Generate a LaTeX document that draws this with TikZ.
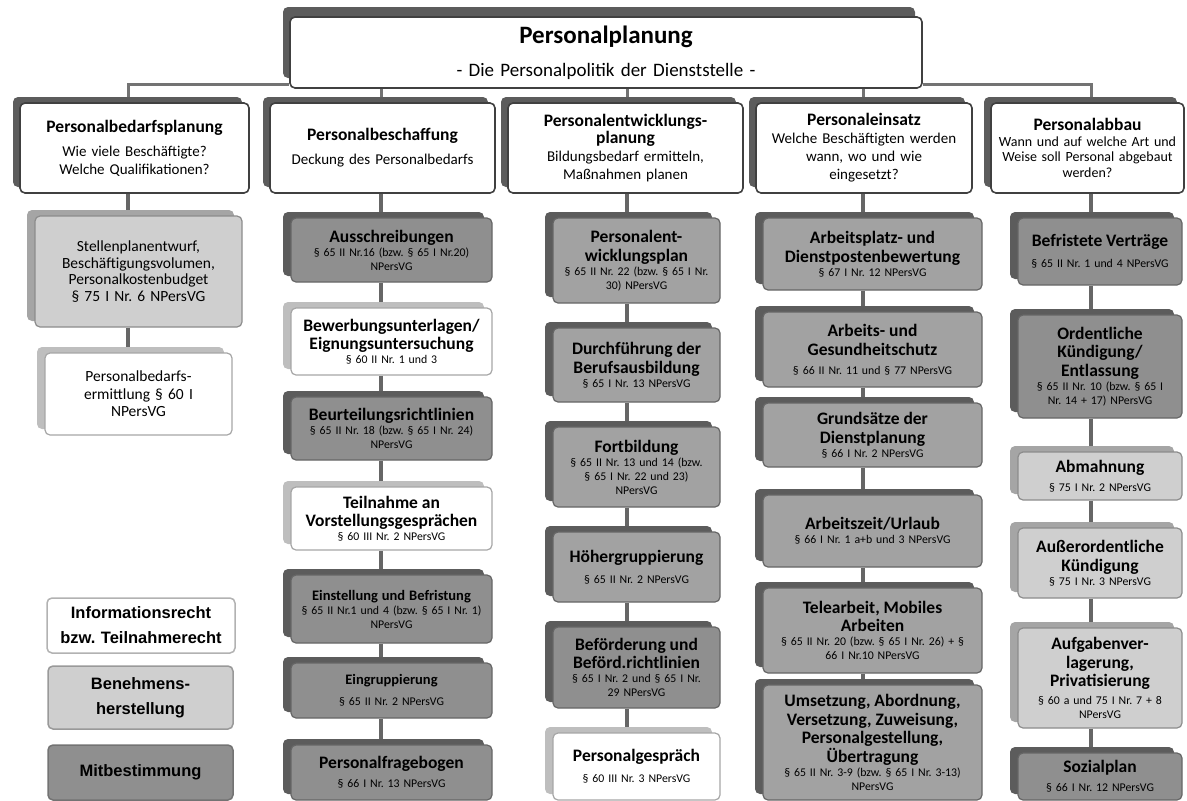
\documentclass[tikz,border=0pt]{standalone}
\usepackage{fontspec}
\setmainfont{Carlito}
\newfontfamily\arialfont{Liberation Sans}
\usetikzlibrary{shadows, backgrounds}
\frenchspacing
\definecolor{schatten}{RGB}{92,92,92}
\definecolor{mitgrau}{RGB}{143,143,143}
\definecolor{mitgrauhell}{RGB}{162,162,162}
\definecolor{hellgrau}{RGB}{207,207,207}
\definecolor{hellschatten}{RGB}{165,165,165}
\definecolor{infoschatten}{RGB}{190,190,190}
\newcommand{\titel}{\fontsize{17.5}{18.5}\selectfont\bfseries}
\newcommand{\kleintitel}{\fontsize{14.5}{15}\selectfont\bfseries}
\newcommand{\gesetz}{\fontsize{11.8}{14}\selectfont\mdseries}
\newcommand{\kopftitel}{\fontsize{17.5}{17.5}\selectfont\bfseries}
\newcommand{\kopftext}{\fontsize{15}{18}\selectfont\mdseries}
\newcommand{\abbautext}{\fontsize{14}{15.5}\selectfont\mdseries}

\begin{document}
\begin{tikzpicture}[x=1pt,y=-1pt,
    kasten/.style={rounded corners=5pt, inner sep=0pt, align=center, line width=1.2pt, font=\gesetz},
    wh/.style 2 args={text width=#1, minimum height=#2},
    kopf/.style={kasten, fill=white, draw=black!75, line width=1.6pt, font=\kopftext,
        general shadow={fill=schatten, shadow xshift=-7pt, shadow yshift=#1}},
    kopf/.default=6pt,
    mitb/.style={kasten, fill=mitgrau, draw=black!60,
        general shadow={fill=schatten, shadow xshift=-8pt, shadow yshift=6pt}},
    beneh/.style={kasten, fill=hellgrau, draw=black!45,
        general shadow={fill=hellschatten, shadow xshift=-8pt, shadow yshift=6pt}},
    info/.style={kasten, fill=white, draw=black!35,
        general shadow={fill=infoschatten, shadow xshift=-8pt, shadow yshift=6pt}},
    legende/.style={rounded corners=5pt, inner sep=0pt, align=center, line width=1.5pt,
        font=\arialfont\bfseries\fontsize{16.5}{25}\selectfont},
    link/.style={line width=4pt, draw=black!60},
    stem/.style={line width=3pt, draw=black!55}]
\useasboundingbox (0,0) rectangle (1187,801);
% Verbindungslinien laufen senkrecht
\coordinate (k1) at (128,0);
\coordinate (k2) at (381,0);
\coordinate (k3) at (627,0);
\coordinate (k4) at (863,0);
\coordinate (k5) at (1091,0);

% Kopf
\node[kopf=10pt, wh={632pt}{71pt}, font=\fontsize{19}{22}\selectfont] (haupt) at (606,52.5)
    {\fontsize{25}{26}\selectfont\bfseries Personalplanung\\[11pt]
     \fontsize{19}{22}\selectfont\mdseries - Die Personalpolitik der Dienststelle -};
\node[kopf, wh={229pt}{90pt}] (h1) at (134.5,148)
    {\kopftitel Personalbedarfsplanung\\[6pt] \kopftext Wie viele Beschäftigte?\\ Welche Qualifikationen?};
\node[kopf, wh={225pt}{90pt}] (h2) at (382.5,148)
    {\kopftitel Personalbeschaffung\\[6pt] \kopftext Deckung des Personalbedarfs};
\node[kopf, wh={235pt}{90pt}] (h3) at (625.5,148)
    {\kopftitel Personalentwicklungs-\\ planung\\ \kopftext Bildungsbedarf ermitteln,\\ Maßnahmen planen};
\node[kopf, wh={216pt}{90pt}] (h4) at (864,148)
    {\kopftitel Personaleinsatz\\ \kopftext Welche Beschäftigten werden\\ wann, wo und wie\\ eingesetzt?};
\node[kopf, wh={193pt}{90pt}, font=\abbautext] (h5) at (1087.5,148)
    {\kopftitel Personalabbau\\ \abbautext Wann und auf welche Art und\\ Weise soll Personal abgebaut\\ werden?};

% Personalbedarfsplanung
\node[beneh, wh={207pt}{111pt}, font=\fontsize{15.5}{16.5}\selectfont] (stellen) at (138.5,271.5)
    {Stellenplanentwurf,\\ Beschäftigungsvolumen,\\ Personalkostenbudget\\ § 75 I Nr. 6 NPersVG};
\node[info, wh={187pt}{82pt}, font=\fontsize{15.5}{17.5}\selectfont] (bedarf) at (138.5,394)
    {Personalbedarfs-\\ ermittlung § 60 I\\ NPersVG};

% Personalbeschaffung
\node[mitb, wh={201pt}{64pt}] (aus) at (391.5,250)
    {\titel Ausschreibungen\\ \gesetz § 65 II Nr.16 (bzw. § 65 I Nr.20)\\ NPersVG};
\node[info, wh={201pt}{67pt}] (bew) at (391.5,341.5)
    {\titel Bewerbungsunterlagen/\\ Eignungsuntersuchung\\ \gesetz § 60 II Nr. 1 und 3};
\node[mitb, wh={201pt}{63pt}] (beu) at (391.5,428.5)
    {\titel Beurteilungsrichtlinien\\ \gesetz § 65 II Nr. 18 (bzw. § 65 I Nr. 24)\\ NPersVG};
\node[info, wh={201pt}{63pt}] (teil) at (391.5,518.5)
    {\titel Teilnahme an\\ Vorstellungsgesprächen\\ \gesetz § 60 III Nr. 2 NPersVG};
\node[mitb, wh={201pt}{68pt}] (einst) at (391.5,609)
    {\kleintitel Einstellung und Befristung\\ \gesetz § 65 II Nr.1 und 4 (bzw. § 65 I Nr. 1)\\ NPersVG};
\node[mitb, wh={201pt}{55pt}] (eingr) at (391.5,690.5)
    {\kleintitel Eingruppierung\\[7pt] \gesetz § 65 II Nr. 2 NPersVG};
\node[mitb, wh={201pt}{55pt}] (frage) at (391.5,772.5)
    {\titel Personalfragebogen\\[5pt] \gesetz § 66 I Nr. 13 NPersVG};

% Personalentwicklungsplanung
\node[mitb, fill=mitgrauhell, wh={167pt}{85pt}] (pep) at (636.5,260.5)
    {\titel Personalent-\\ wicklungsplan\\ \gesetz § 65 II Nr. 22 (bzw. § 65 I Nr.\\ 30) NPersVG};
\node[mitb, fill=mitgrauhell, wh={167pt}{74pt}] (durch) at (636.5,365)
    {\titel Durchführung der\\ Berufsausbildung\\ \gesetz § 65 I Nr. 13 NPersVG};
\node[mitb, fill=mitgrauhell, wh={167pt}{80pt}] (fort) at (636.5,467)
    {\titel Fortbildung\\ \gesetz § 65 II Nr. 13 und 14 (bzw.\\ § 65 I Nr. 22 und 23)\\ NPersVG};
\node[mitb, fill=mitgrauhell, wh={167pt}{70pt}] (hoeher) at (636.5,567)
    {\titel Höhergruppierung\\[7pt] \gesetz § 65 II Nr. 2 NPersVG};
\node[mitb, wh={167pt}{81pt}] (befoe) at (636.5,667.5)
    {\titel Beförderung und\\ Beförd.richtlinien\\ \gesetz § 65 I Nr. 2 und § 65 I Nr.\\ 29 NPersVG};
\node[info, wh={167pt}{67pt}] (gespr) at (636.5,766.5)
    {\titel Personalgespräch\\[7pt] \gesetz § 60 III Nr. 3 NPersVG};

% Personaleinsatz
\node[mitb, fill=mitgrauhell, wh={219pt}{72pt}] (platz) at (872.5,254)
    {\titel Arbeitsplatz- und\\ Dienstpostenbewertung\\ \gesetz § 67 I Nr. 12 NPersVG};
\node[mitb, fill=mitgrauhell, wh={219pt}{75pt}] (schutz) at (872.5,349.5)
    {\titel Arbeits- und\\ Gesundheitschutz\\[5pt] \gesetz § 66 II Nr. 11 und § 77 NPersVG};
\node[mitb, fill=mitgrauhell, wh={219pt}{64pt}] (grund) at (872.5,435)
    {\titel Grundsätze der\\ Dienstplanung\\ \gesetz § 66 I Nr. 2 NPersVG};
\node[mitb, fill=mitgrauhell, wh={219pt}{72pt}] (zeit) at (872.5,531)
    {\titel Arbeitszeit/Urlaub\\ \gesetz § 66 I Nr. 1 a+b und 3 NPersVG};
\node[mitb, fill=mitgrauhell, wh={219pt}{85pt}] (tele) at (872.5,630.5)
    {\titel Telearbeit, Mobiles\\ Arbeiten\\ \gesetz § 65 II Nr. 20 (bzw. § 65 I Nr. 26) + §\\ 66 I Nr.10 NPersVG};
\node[mitb, fill=mitgrauhell, wh={219pt}{115pt}] (umsetz) at (872.5,742.5)
    {\titel Umsetzung, Abordnung,\\ Versetzung, Zuweisung,\\ Personalgestellung,\\ Übertragung\\ \gesetz § 65 II Nr. 3-9 (bzw. § 65 I Nr. 3-13)\\ NPersVG};

% Personalabbau
\node[mitb, wh={164pt}{67pt}] (befr) at (1100,251.5)
    {\titel Befristete Verträge\\[7pt] \gesetz § 65 II Nr. 1 und 4 NPersVG};
\node[mitb, wh={164pt}{103pt}] (ord) at (1100,366.5)
    {\titel Ordentliche\\ Kündigung/\\ Entlassung\\ \gesetz § 65 II Nr. 10 (bzw. § 65 I\\ Nr. 14 + 17) NPersVG};
\node[beneh, wh={164pt}{48pt}] (abm) at (1100,476)
    {\titel Abmahnung\\[5pt] \gesetz § 75 I Nr. 2 NPersVG};
\node[beneh, wh={164pt}{70pt}] (ausser) at (1100,563)
    {\titel Außerordentliche\\ Kündigung\\ \gesetz § 75 I Nr. 3 NPersVG};
\node[beneh, wh={164pt}{100pt}] (aufg) at (1100,678)
    {\titel Aufgabenver-\\ lagerung,\\ Privatisierung\\[4pt] \gesetz § 60 a und 75 I Nr. 7 + 8\\ NPersVG};
\node[mitb, wh={164pt}{47pt}] (sozial) at (1100,776.5)
    {\titel Sozialplan\\[5pt] \gesetz § 66 I Nr. 12 NPersVG};

% Legende
\node[legende, fill=white, draw=black!30, wh={188pt}{55pt}] (linfo) at (141,625.5)
    {Informationsrecht\\ bzw. Teilnahmerecht};
\node[legende, fill=hellgrau, draw=black!40, wh={185pt}{63pt}] (lben) at (140.5,697.5)
    {Benehmens-\\ herstellung};
\node[legende, fill=mitgrau, draw=black!55, wh={185pt}{55pt}] (lmit) at (140.5,772.5)
    {Mitbestimmung};

% Linien
\begin{scope}[on background layer]
\draw[stem] ([yshift=-32pt]haupt.west) -| (k1 |- h1.north);
\draw[stem] ([yshift=-32pt]haupt.east) -| (k5 |- h5.north);
\draw[stem] (k2 |- haupt.south) -- (k2 |- h2.north)
            (k3 |- haupt.south) -- (k3 |- h3.north)
            (k4 |- haupt.south) -- (k4 |- h4.north);
\draw[link] (k1 |- h1.south) -- (k1 |- stellen.north)
            (k1 |- stellen.south) -- (k1 |- bedarf.north);
\draw[link] (k2 |- h2.south) -- (k2 |- aus.north)
            (k2 |- aus.south) -- (k2 |- bew.north)
            (k2 |- bew.south) -- (k2 |- beu.north)
            (k2 |- beu.south) -- (k2 |- teil.north)
            (k2 |- teil.south) -- (k2 |- einst.north)
            (k2 |- einst.south) -- (k2 |- eingr.north)
            (k2 |- eingr.south) -- (k2 |- frage.north);
\draw[link] (k3 |- h3.south) -- (k3 |- pep.north)
            (k3 |- pep.south) -- (k3 |- durch.north)
            (k3 |- durch.south) -- (k3 |- fort.north)
            (k3 |- fort.south) -- (k3 |- hoeher.north)
            (k3 |- hoeher.south) -- (k3 |- befoe.north)
            (k3 |- befoe.south) -- (k3 |- gespr.north);
\draw[link] (k4 |- h4.south) -- (k4 |- platz.north)
            (k4 |- platz.south) -- (k4 |- schutz.north)
            (k4 |- schutz.south) -- (k4 |- grund.north)
            (k4 |- grund.south) -- (k4 |- zeit.north)
            (k4 |- zeit.south) -- (k4 |- tele.north)
            (k4 |- tele.south) -- (k4 |- umsetz.north);
\draw[link] (k5 |- h5.south) -- (k5 |- befr.north)
            (k5 |- befr.south) -- (k5 |- ord.north)
            (k5 |- ord.south) -- (k5 |- abm.north)
            (k5 |- abm.south) -- (k5 |- ausser.north)
            (k5 |- ausser.south) -- (k5 |- aufg.north)
            (k5 |- aufg.south) -- (k5 |- sozial.north);
\end{scope}
\end{tikzpicture}
\end{document}
